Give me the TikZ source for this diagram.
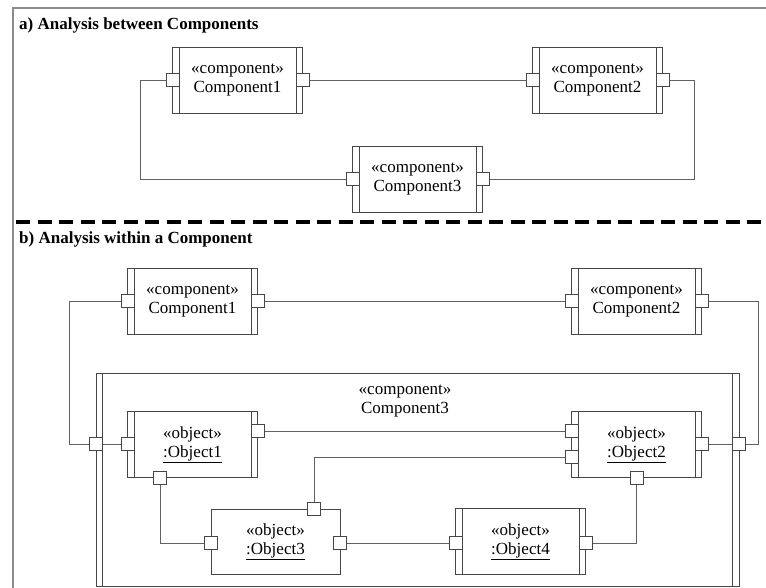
\documentclass[tikz,border=0pt]{standalone}
\usepackage{fontspec}
\setmainfont{Liberation Serif}
\newcommand\mybox{\fontsize{17}{19}\selectfont}
\newcommand\mytitle{\fontsize{17}{20}\selectfont\bfseries}
\tikzset{
  edgecol/.style={draw=black!72},
  bars/.style={path picture={
      \draw[black!72, line width=1pt]
        ([xshift=6.5pt]path picture bounding box.north west) -- ([xshift=6.5pt]path picture bounding box.south west)
        ([xshift=-6.5pt]path picture bounding box.north east) -- ([xshift=-6.5pt]path picture bounding box.south east);}},
  objbox/.style={edgecol, line width=1pt, fill=white, minimum width=130pt, minimum height=66pt,
      inner sep=0pt, align=center, font=\mybox},
  compbox/.style={objbox, bars},
  port/.style={edgecol, line width=1pt, fill=white, minimum size=13pt, inner sep=0pt},
  conn/.style={draw=black!62, line width=0.9pt},
  frame/.style={draw=black!45, line width=1.5pt},
  sep/.style={draw=black, line width=4pt, dash pattern=on 14pt off 7.5pt},
  ttl/.style={anchor=west, inner sep=0pt, font=\mytitle},
}
\begin{document}
\begin{tikzpicture}[x=1pt, y=-1pt]
\useasboundingbox[fill=white] (0,0) rectangle (766,588);

% frame and separator
\draw[frame] (13,588) -- (13,8) -- (766,8);
\draw[sep] (16,222) -- (766,222);

% titles
\node[ttl] (ta) at (19,25) {a) Analysis between Components};
\node[ttl] (tb) at (19,239) {b) Analysis within a Component};

% ---------------- section a ----------------
\node[compbox] (a1) at (237.5,80.5) {«component»\\Component1};
\node[compbox] (a2) at (597.5,80.5) {«component»\\Component2};
\node[compbox] (a3) at (417.5,179.5) {«component»\\Component3};
\node[port] (a1l) at (172.5,80) {};
\node[port] (a1r) at (302.5,80) {};
\node[port] (a2l) at (532.5,80) {};
\node[port] (a2r) at (662.5,80) {};
\node[port] (a3l) at (352.5,179) {};
\node[port] (a3r) at (482.5,179) {};
\draw[conn] (a1r.east) -- (a2l.west);
\draw[conn] (a1l.west) -- ++(-25.5,0) |- (a3l.west);
\draw[conn] (a2r.east) -- ++(24.5,0) |- (a3r.east);

% ---------------- section b ----------------
\node[compbox] (b1) at (192.5,301.5) {«component»\\Component1};
\node[compbox] (b2) at (636.5,301.5) {«component»\\Component2};
\node[edgecol, line width=1pt, fill=white, minimum width=643pt, minimum height=213pt, inner sep=0pt, bars] (C3) at (417.5,480) {};
\node[align=center, font=\mybox, inner sep=0pt] (C3t) at (405,401) {«component»\\Component3};

\node[compbox] (o1) at (192.5,444.5) {«object»\\\underline{:Object1}};
\node[compbox] (o2) at (636.5,444.5) {«object»\\\underline{:Object2}};
\node[objbox, minimum width=129pt, minimum height=65pt] (o3) at (275.5,541.5) {«object»\\\underline{:Object3}};
\node[compbox] (o4) at (520.5,541.5) {«object»\\\underline{:Object4}};

\node[port] (b1l) at (127.5,301) {};
\node[port] (b1r) at (257.5,301) {};
\node[port] (b2l) at (571.5,301) {};
\node[port] (b2r) at (701.5,301) {};
\node[port] (C3l) at (96,444) {};
\node[port] (C3r) at (739,444) {};
\node[port] (o1l) at (127.5,444) {};
\node[port] (o1r) at (257.5,431) {};
\node[port] (o1b) at (160,477.5) {};
\node[port] (o2l1) at (571.5,431) {};
\node[port] (o2l2) at (571.5,457) {};
\node[port] (o2r) at (701.5,444) {};
\node[port] (o2b) at (636.5,477.5) {};
\node[port] (o3l) at (211,543) {};
\node[port] (o3r) at (340,543) {};
\node[port] (o3t) at (314,509) {};
\node[port] (o4l) at (455.5,543) {};
\node[port] (o4r) at (585.5,543) {};

\draw[conn] (b1r.east) -- (b2l.west);
\draw[conn] (b1l.west) -- ++(-51,0) |- (C3l.west);
\draw[conn] (b2r.east) -- ++(50,0) |- (C3r.east);
\draw[conn] (C3l.east) -- (o1l.west);
\draw[conn] (o2r.east) -- (C3r.west);
\draw[conn] (o1r.east) -- (o2l1.west);
\draw[conn] (o3t.north) |- (o2l2.west);
\draw[conn] (o1b.south) |- (o3l.west);
\draw[conn] (o3r.east) -- (o4l.west);
\draw[conn] (o4r.east) -| (o2b.south);
\end{tikzpicture}
\end{document}
